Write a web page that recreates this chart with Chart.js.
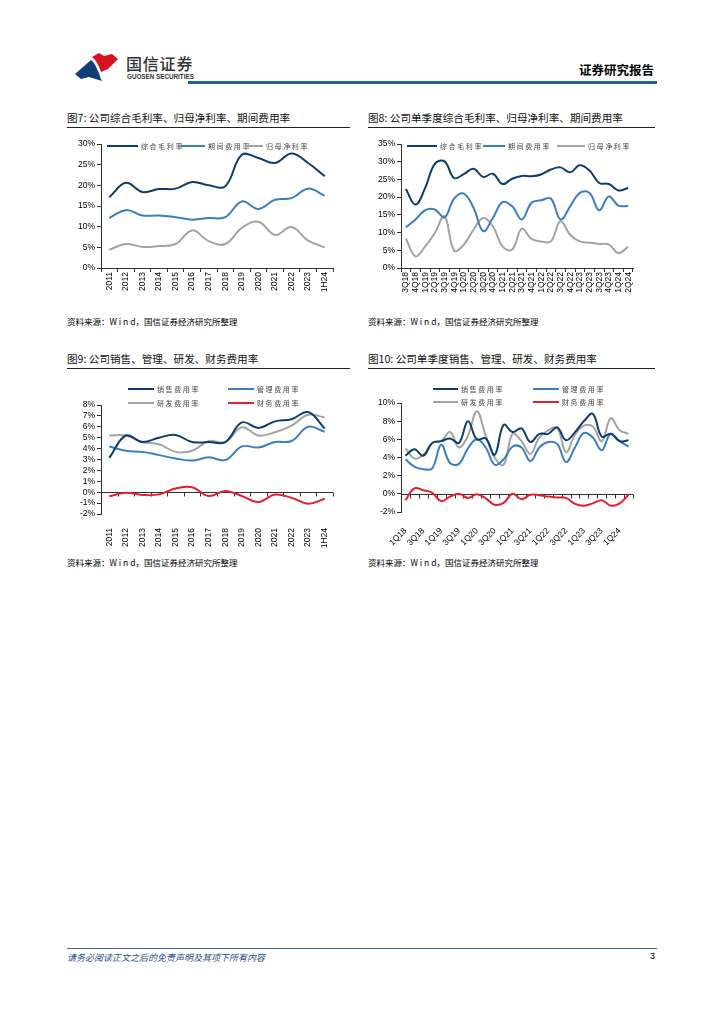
<!DOCTYPE html>
<html>
<head>
<meta charset="utf-8">
<script src="https://cdn.jsdelivr.net/npm/chart.js@4"></script>
<style>
  body { margin: 0; background: #fff; }
  #page { position: relative; width: 724px; height: 1024px; background: #fff; font-family: "Noto Sans CJK SC", sans-serif; color: #000; }
  .abs { position: absolute; }
  .title { font-size: 10.6px; font-weight: 400; white-space: nowrap; color: #111; }
  .rule { height: 1px; background: #222; }
  .src { font-size: 8.5px; white-space: nowrap; }
  .lg-line { position: absolute; height: 2px; }
  .lg-text { position: absolute; font-size: 7px; color: #444; letter-spacing: 1.6px; white-space: nowrap; line-height: 10px; }
  canvas { position: absolute; }
</style>
</head>
<body>
<div id="page">
  <!-- header -->
  <svg class="abs" style="left:0;top:0" width="200" height="90">
    <path d="M75,74 L91,60 C95,63 96,67 98,71 C100,75 100,78 102,81 L89,77 L81,79 Z" fill="#123f73"/>
    <path d="M92,57 L99,53 L104,56 L112,54 L118,59 L108,69 L101,72 C99,66 97,61 92,57 Z" fill="#d6141f"/>
  </svg>
  <div class="abs" style="left:126px;top:51px;font-size:16px;font-weight:500;color:#333;letter-spacing:0.8px">国信证券</div>
  <div class="abs" style="left:127px;top:73px;font-size:6.3px;font-weight:700;color:#333;font-family:'Liberation Sans';white-space:nowrap">GUOSEN SECURITIES</div>
  <div class="abs" style="left:579px;top:60px;font-size:12.5px;font-weight:700;white-space:nowrap">证券研究报告</div>
  <div class="abs" style="left:188px;top:81px;width:469px;height:3px;background:#245f96"></div>

  <!-- titles -->
  <div class="abs title" style="left:67px;top:110px">图7: 公司综合毛利率、归母净利率、期间费用率</div>
  <div class="abs rule" style="left:67px;top:127px;width:283px"></div>
  <div class="abs title" style="left:368px;top:110px">图8: 公司单季度综合毛利率、归母净利率、期间费用率</div>
  <div class="abs rule" style="left:368px;top:127px;width:287px"></div>
  <div class="abs title" style="left:67px;top:351px">图9: 公司销售、管理、研发、财务费用率</div>
  <div class="abs rule" style="left:67px;top:368px;width:283px"></div>
  <div class="abs title" style="left:368px;top:351px">图10: 公司单季度销售、管理、研发、财务费用率</div>
  <div class="abs rule" style="left:368px;top:368px;width:287px"></div>

  <canvas id="c7" style="left:67px;top:133px" width="283" height="172"></canvas>
  <canvas id="c8" style="left:368px;top:133px" width="287" height="172"></canvas>
  <canvas id="c9" style="left:67px;top:375px" width="283" height="180"></canvas>
  <canvas id="c10" style="left:368px;top:375px" width="287" height="180"></canvas>

  <div class="abs src" style="left:67px;top:315px">资料来源：W i n d，国信证券经济研究所整理</div>
  <div class="abs src" style="left:368px;top:315px">资料来源：W i n d，国信证券经济研究所整理</div>
  <div class="abs src" style="left:67px;top:556px">资料来源：W i n d，国信证券经济研究所整理</div>
  <div class="abs src" style="left:368px;top:556px">资料来源：W i n d，国信证券经济研究所整理</div>

  <!-- footer -->
  <div class="abs" style="left:67px;top:948px;width:590px;height:1px;background:#3a6ea5"></div>
  <div class="abs" style="left:67px;top:951px;font-size:9px;font-style:italic;color:#1f4e8c;white-space:nowrap">请务必阅读正文之后的免责声明及其项下所有内容</div>
  <div class="abs" style="left:650px;top:951px;font-size:9px;font-family:'Liberation Sans'">3</div>
</div>

<script>
// colours
const NAVY = "#0f3d6b";
const BLUE = "#3a7fc1";
const GRAY = "#a3a3a3";
const RED = "#e3202d";

// chart 7 - annual margins
const yearLabels = ["2011", "2012", "2013", "2014", "2015", "2016", "2017", "2018", "2019", "2020", "2021", "2022", "2023", "1H24"];
const grossYear = [17.1, 20.6, 18.4, 19.1, 19.2, 20.8, 20.0, 19.8, 27.4, 26.6, 25.4, 27.7, 25.4, 22.2];
const periodYear = [12.1, 14.0, 12.7, 12.7, 12.3, 11.7, 12.1, 12.3, 16.1, 14.3, 16.5, 16.9, 19.2, 17.5];
const netYear = [4.4, 5.8, 5.1, 5.3, 5.8, 9.1, 6.5, 5.8, 9.7, 11.2, 8.0, 9.9, 6.6, 5.0];

// chart 8 - quarterly margins
const qLabels8 = ["3Q18", "4Q18", "1Q19", "2Q19", "3Q19", "4Q19", "1Q20", "2Q20", "3Q20", "4Q20", "1Q21", "2Q21", "3Q21", "4Q21", "1Q22", "2Q22", "3Q22", "4Q22", "1Q23", "2Q23", "3Q23", "4Q23", "1Q24", "2Q24"];
const grossQ = [22.3, 17.9, 22.6, 29.4, 30.1, 25.4, 26.5, 28.0, 25.7, 26.6, 23.7, 25.2, 26.0, 25.9, 26.4, 27.8, 28.4, 27.0, 29.0, 27.5, 24.0, 23.7, 21.9, 22.6];
const periodQ = [11.5, 13.7, 16.3, 16.5, 14.3, 19.6, 21.0, 17.0, 10.4, 14.1, 18.6, 17.4, 13.7, 18.4, 19.1, 19.6, 13.7, 17.4, 21.2, 21.2, 16.3, 20.2, 17.6, 17.5];
const netQ = [8.3, 3.3, 6.1, 9.9, 14.6, 4.9, 6.6, 10.8, 14.1, 11.8, 6.1, 5.2, 11.1, 8.2, 7.5, 7.5, 13.2, 9.4, 7.5, 7.1, 6.8, 6.6, 4.2, 6.0];

// chart 9 - annual expense ratios
const salesYear = [3.15, 5.2, 4.6, 5.0, 5.25, 4.6, 4.6, 4.6, 6.4, 5.9, 6.5, 6.7, 7.35, 5.85];
const adminYear = [4.2, 3.8, 3.7, 3.4, 3.1, 2.9, 3.2, 2.95, 4.2, 4.1, 4.6, 4.7, 6.0, 5.55];
const rdYear = [5.2, 5.2, 4.6, 4.4, 3.7, 3.8, 4.7, 4.6, 5.95, 5.2, 5.5, 6.1, 7.1, 6.85];
const finYear = [-0.37, -0.06, -0.25, -0.2, 0.34, 0.46, -0.35, 0.12, -0.35, -0.9, -0.22, -0.52, -1.05, -0.6];

// chart 10 - quarterly expense ratios
const qLabels10 = ["1Q18", "2Q18", "3Q18", "4Q18", "1Q19", "2Q19", "3Q19", "4Q19", "1Q20", "2Q20", "3Q20", "4Q20", "1Q21", "2Q21", "3Q21", "4Q21", "1Q22", "2Q22", "3Q22", "4Q22", "1Q23", "2Q23", "3Q23", "4Q23", "1Q24", "2Q24"];
const salesQ = [4.2, 4.9, 4.2, 5.6, 5.8, 6.1, 5.6, 8.0, 6.0, 6.1, 4.3, 7.6, 6.8, 7.2, 5.7, 6.6, 6.6, 7.3, 5.9, 6.8, 8.0, 8.8, 6.3, 6.6, 5.8, 5.9];
const adminQ = [3.8, 3.0, 2.7, 2.8, 5.4, 3.4, 3.3, 5.0, 6.0, 5.1, 3.2, 3.8, 5.2, 5.1, 3.6, 5.1, 5.7, 5.5, 3.5, 5.1, 6.7, 6.2, 4.8, 6.6, 5.8, 5.2];
const rdQ = [5.0, 3.9, 4.3, 5.6, 5.8, 6.8, 5.1, 6.4, 9.1, 6.4, 4.0, 3.2, 6.6, 5.8, 4.4, 6.2, 7.0, 7.3, 4.6, 6.5, 7.5, 7.4, 5.8, 8.3, 7.0, 6.6];
const finQ = [-0.7, 0.6, 0.4, 0.1, -0.8, -0.3, 0.0, -0.45, -0.05, -0.5, -1.2, -1.0, 0.0, -0.6, -0.1, -0.15, -0.3, -0.4, -0.45, -1.1, -1.3, -1.05, -0.7, -1.3, -1.05, -0.1];

const TICK_FONT = { family: "Liberation Sans", size: 8.5 };

// zero line with tick marks, for charts whose y range crosses zero
const zeroAxis = {
    id: "zeroAxis",
    beforeDatasetsDraw(chart, args, opts) {
        if (!opts.on) return;
        const { ctx, chartArea, scales } = chart;
        const y0 = Math.round(scales.y.getPixelForValue(0)) + 0.5;
        const n = chart.data.labels.length;
        const band = (chartArea.right - chartArea.left) / n;
        ctx.save();
        ctx.strokeStyle = "#333";
        ctx.lineWidth = 1;
        ctx.beginPath();
        ctx.moveTo(chartArea.left, y0);
        ctx.lineTo(chartArea.right, y0);
        for (let i = 0; i <= n; i++) {
            const x = Math.round(chartArea.left + band * i) + 0.5;
            ctx.moveTo(x, y0);
            ctx.lineTo(x, y0 + 4);
        }
        ctx.stroke();
        ctx.restore();
    }
};

function line(data, color) {
    return {
        data,
        borderColor: color,
        borderWidth: 2,
        pointRadius: 0,
        tension: 0.4,
        fill: false
    };
}

function makeChart(id, cfg) {
    const zero = cfg.min < 0;
    return new Chart(document.getElementById(id), {
        type: "line",
        data: { labels: cfg.labels, datasets: cfg.datasets },
        plugins: [zeroAxis],
        options: {
            responsive: false,
            animation: false,
            layout: { padding: { top: cfg.padTop, right: cfg.padRight, left: 0, bottom: 0 } },
            plugins: {
                legend: { display: false },
                tooltip: { enabled: false },
                zeroAxis: { on: zero }
            },
            scales: {
                x: {
                    offset: true,
                    grid: zero ? { display: false } : { offset: true, drawOnChartArea: false, tickLength: 4, color: "#333" },
                    border: { display: !zero, color: "#333" },
                    ticks: {
                        font: TICK_FONT,
                        color: "#000",
                        autoSkip: false,
                        maxRotation: cfg.rotation,
                        minRotation: cfg.rotation,
                        padding: zero ? 6 : 0,
                        callback: function (v, i) {
                            if (cfg.every && i % cfg.every !== 0) return "";
                            return cfg.labels[i];
                        }
                    },
                    afterFit: s => { s.height = cfg.xHeight; }
                },
                y: {
                    min: cfg.min,
                    max: cfg.max,
                    grid: { drawOnChartArea: false, tickLength: 4, color: "#333" },
                    border: { color: "#333" },
                    ticks: {
                        stepSize: cfg.step,
                        autoSkip: false,
                        font: TICK_FONT,
                        color: "#000",
                        padding: 2,
                        callback: v => v + "%"
                    },
                    afterFit: s => { s.width = cfg.yWidth; }
                }
            }
        }
    });
}

makeChart("c7", {
    labels: yearLabels, min: 0, max: 30, step: 5, rotation: 90,
    padTop: 11, padRight: 17, xHeight: 37, yWidth: 34,
    datasets: [line(grossYear, NAVY), line(periodYear, BLUE), line(netYear, GRAY)]
});
makeChart("c8", {
    labels: qLabels8, min: 0, max: 35, step: 5, rotation: 90,
    padTop: 11, padRight: 22, xHeight: 37, yWidth: 33,
    datasets: [line(grossQ, NAVY), line(periodQ, BLUE), line(netQ, GRAY)]
});
makeChart("c9", {
    labels: yearLabels, min: -2, max: 8, step: 1, rotation: 90,
    padTop: 30, padRight: 17, xHeight: 41, yWidth: 34,
    datasets: [line(salesYear, NAVY), line(adminYear, BLUE), line(rdYear, GRAY), line(finYear, RED)]
});
makeChart("c10", {
    labels: qLabels10, min: -2, max: 10, step: 2, rotation: 45, every: 2,
    padTop: 28, padRight: 22, xHeight: 43, yWidth: 33,
    datasets: [line(salesQ, NAVY), line(adminQ, BLUE), line(rdQ, GRAY), line(finQ, RED)]
});

// legends drawn as html overlays
const legends = [
    [107, 146, 31, NAVY, "综合毛利率"], [180, 146, 25, BLUE, "期间费用率"], [245, 146, 18, GRAY, "归母净利率"],
    [407, 146, 30, NAVY, "综合毛利率"], [483, 146, 22, BLUE, "期间费用率"], [557, 146, 28, GRAY, "归母净利率"],
    [128, 389, 26, NAVY, "销售费用率"], [228, 389, 26, BLUE, "管理费用率"],
    [128, 403, 26, GRAY, "研发费用率"], [228, 403, 26, RED, "财务费用率"],
    [433, 389, 25, NAVY, "销售费用率"], [533, 389, 26, BLUE, "管理费用率"],
    [433, 402, 25, GRAY, "研发费用率"], [533, 402, 26, RED, "财务费用率"]
];
const page = document.getElementById("page");
legends.forEach(([x, y, w, color, text]) => {
    const l = document.createElement("div");
    l.className = "lg-line";
    l.style.cssText = `left:${x}px;top:${y - 1}px;width:${w}px;background:${color}`;
    page.appendChild(l);
    const t = document.createElement("div");
    t.className = "lg-text";
    t.style.cssText = `left:${x + w + 3}px;top:${y - 5}px`;
    t.textContent = text;
    page.appendChild(t);
});
</script>
</body>
</html>
